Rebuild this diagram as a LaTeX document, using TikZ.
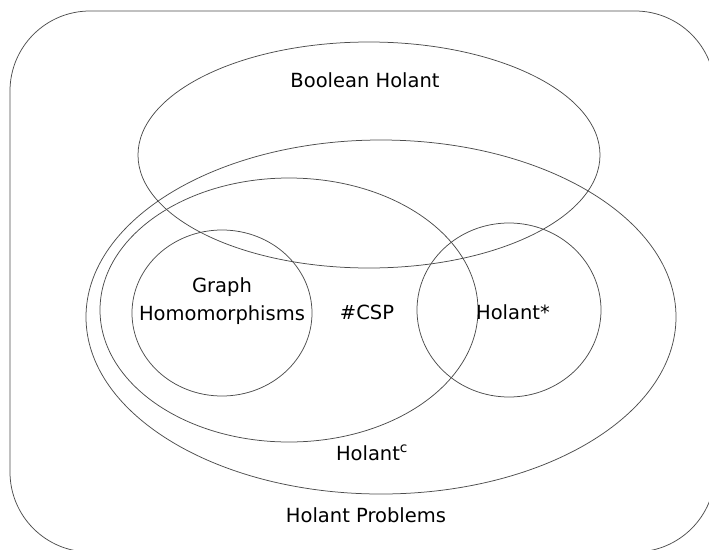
\documentclass[tikz,border=0pt]{standalone}
\usepackage{fontspec}
\setmainfont{DejaVu Sans}
\usetikzlibrary{shapes}

\begin{document}
\begin{tikzpicture}[x=1pt,y=-1pt]
\tikzset{conj/.style={line width=.75pt,color=black!70},
etiq/.style={font=\fontsize{19.5}{28}\selectfont,align=center,inner sep=0pt}}
\useasboundingbox (0,0) rectangle (709,549);
\clip (0,0) rectangle (709,549);
%
% marco y conjuntos
\draw[conj,rounded corners=80pt] (10,11) rectangle (715,552);
\draw[conj] (369,155) ellipse [x radius=231,y radius=113];
\draw[conj] (381,317) ellipse [x radius=295,y radius=177];
\draw[conj] (289,310) ellipse [x radius=189,y radius=132];
\draw[conj] (222,313) ellipse [x radius=90,y radius=83];
\draw[conj] (509,310) ellipse [x radius=92,y radius=87];
%
% etiquetas
\node[etiq] (booleano) at (365,80) {Boolean Holant};
\node[etiq] (grafo) at (222,301) {Graph\\Homomorphisms};
\node[etiq] (csp) at (367,312) {\#CSP};
\node[etiq] (estrella) at (513,312) {Holant*};
\node[etiq] (holantc) at (372,453) {Holant\textsuperscript{c}};
\node[etiq] (problemas) at (366,515) {Holant Problems};
\end{tikzpicture}
\end{document}
